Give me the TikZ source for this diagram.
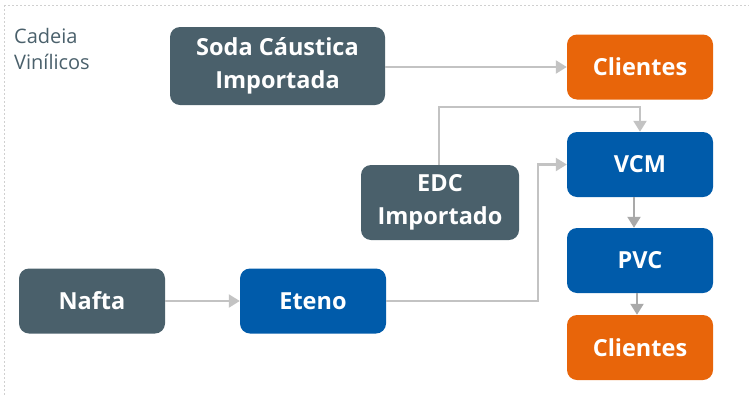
\documentclass[tikz,border=0pt]{standalone}
\usepackage{fontspec}
\setmainfont{Open Sans}
\usetikzlibrary{arrows.meta}
\definecolor{slate}{HTML}{4A606B}
\definecolor{borange}{HTML}{E8650A}
\definecolor{bblue}{HTML}{005BAA}
\definecolor{agray}{HTML}{C3C3C3}
\definecolor{agrayd}{HTML}{A9A9A9}
\definecolor{bordergray}{HTML}{D0D0D0}
\tikzset{
  box/.style={rounded corners=10pt, minimum width=146pt, minimum height=65pt, inner sep=0pt,
    text=white, font=\fontsize{23.5}{33}\selectfont\bfseries, align=center},
  slatebox/.style={box, fill=slate},
  orangebox/.style={box, fill=borange},
  bluebox/.style={box, fill=bblue},
  conn/.style={draw=agray, line width=2.2pt, -{Triangle[length=11pt,width=13pt]}},
  connd/.style={draw=agrayd, line width=2.2pt, -{Triangle[length=11pt,width=13pt]}},
}
\begin{document}
\begin{tikzpicture}[x=1pt,y=-1pt]
\useasboundingbox (0,0) rectangle (749,394);
\draw[bordergray, line width=0.6pt, dash pattern=on 2pt off 2pt] (4,5) -- (760,5) (4,5) -- (4,400);
\node[anchor=north west, text=slate, font=\fontsize{20}{26}\selectfont, align=left, inner sep=0pt] (lbl) at (14,28) {Cadeia\\Vinílicos};
\node[slatebox, minimum width=215pt, minimum height=78pt] (soda) at (277.5,66) {Soda Cáustica\\Importada};
\node[orangebox] (cli1) at (640,67) {Clientes};
\node[bluebox] (vcm) at (640,164.5) {VCM};
\node[slatebox, minimum width=158pt, minimum height=75pt] (edc) at (440,202.5) {EDC\\Importado};
\node[bluebox] (pvc) at (640,260.5) {PVC};
\node[slatebox] (nafta) at (92,301) {Nafta};
\node[bluebox] (eteno) at (313,301) {Eteno};
\node[orangebox] (cli2) at (640,347.5) {Clientes};
\coordinate (c1) at (439,107);
\coordinate (c2) at (538,301);
\draw[conn] (soda.east |- cli1) -- (cli1.west);
\draw[conn] (edc.north -| c1) -- (c1) -| (vcm.north);
\draw[conn] (nafta.east) -- (eteno.west);
\draw[conn] (eteno.east) -- (c2) |- (vcm.west);
\draw[connd] ([xshift=-6pt]vcm.south) -- ([xshift=-6pt]pvc.north);
\draw[connd] ([xshift=-3pt]pvc.south) -- ([xshift=-3pt]cli2.north);
\end{tikzpicture}
\end{document}
